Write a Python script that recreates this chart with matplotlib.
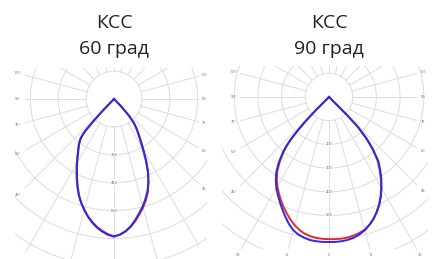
import numpy as np
import matplotlib
matplotlib.use("Agg")
import matplotlib.pyplot as plt
from matplotlib.patches import Rectangle

plt.rcParams["font.family"] = ["Open Sans", "DejaVu Sans"]

# КСС 60 град: угол от надира (град), сила света (кд)
ang_60 = [-90, -46, -44, -43, -42, -41, -40,
          -37.5, -35, -32.5, -30, -27.5, -25, -22.5, -20, -17.5, -15, -12.5, -10, -7.5, -5, -2.5,
          0,
          2.5, 5, 7.5, 10, 12.5, 15, 17.5, 20, 22.5, 25, 27.5, 30, 32.5, 35, 37.5, 40,
          42, 44, 46, 90]
blue_60 = [0, 0, 90, 160, 235, 262, 282,
           310, 333, 362, 396, 432, 470, 510, 550, 585, 617, 648, 675, 698, 716, 731,
           740,
           730, 713, 690, 660, 628, 597, 563, 527, 483, 435, 375, 318, 270, 232, 200, 165,
           120, 55, 0, 0]
red_60 = [0, 0, 85, 150, 228, 258, 280,
          312, 337, 367, 401, 437, 475, 514, 553, 587, 617, 646, 671, 694, 712, 728,
          738,
          730, 715, 693, 665, 634, 604, 570, 532, 485, 430, 368, 308, 262, 225, 194, 160,
          115, 52, 0, 0]

# КСС 90 град
ang_90 = [-90, -46.5, -45, -44, -43, -42, -41, -40,
          -37.5, -35, -32.5, -30, -27.5, -25, -22.5, -20, -17.5, -15, -12.5, -10, -7.5, -5, -2.5,
          0,
          2.5, 5, 7.5, 10, 12.5, 15, 17.5, 20, 22.5, 25, 27.5, 30, 32.5, 35, 37.5,
          40, 42, 44, 45, 46.5, 90]
blue_90 = [0, 0, 80, 150, 200, 245, 275, 300,
           348, 388, 418, 444, 467, 490, 514, 538, 562, 582, 595, 603, 609, 611, 612,
           612,
           612, 611, 608, 603, 594, 582, 566, 548, 526, 502, 474, 443, 411, 377, 342,
           290, 240, 177, 110, 0, 0]
red_90 = [0, 0, 75, 140, 190, 237, 268, 293,
          340, 380, 410, 436, 458, 480, 502, 522, 542, 560, 575, 586, 593, 597, 599,
          600,
          600, 600, 598, 594, 588, 580, 566, 548, 525, 500, 472, 440, 407, 372, 336,
          285, 235, 172, 105, 0, 0]

side_angles = [105, 90, 75, 60, 45]
bottom_angles = [-30, -15, 0, 15, 30]

W, H = 433, 259
fig = plt.figure(figsize=(W / 100, H / 100), dpi=100)
fig.patch.set_facecolor("white")

grid_color = "#dcdcdc"


def make_rect(x0, y0, x1, y1):  # прямоугольник в пикселях (сверху вниз)
    return Rectangle((x0 / W, (H - y1) / H), (x1 - x0) / W, (y1 - y0) / H,
                     transform=fig.transFigure, facecolor="none", edgecolor="none")


def panel(cx, cy, scale, step, rmax, ang, red, blue, ring_box, ray_box,
          radial_labels, left_dx, right_dx, bottom_dy=None):
    half = rmax * scale
    ax = fig.add_axes([(cx - half) / W, (H - cy - half) / H, 2 * half / W, 2 * half / H],
                      projection="polar")
    ax.set_theta_zero_location("S")
    ax.set_theta_direction(1)
    ax.set_ylim(0, rmax)
    ax.grid(False)
    ax.set_xticks([])
    ax.set_yticks([])
    ax.spines["polar"].set_visible(False)
    ax.patch.set_alpha(0)

    ring_clip = make_rect(*ring_box)
    ray_clip = make_rect(*ray_box)
    t = np.linspace(0, 2 * np.pi, 361)
    for r in np.arange(step, rmax + 1, step):
        ln, = ax.plot(t, np.full_like(t, r), color=grid_color, lw=0.7, zorder=1)
        ln.set_clip_path(ring_clip)
    for a in range(-180, 180, 15):
        ln, = ax.plot([np.radians(a)] * 2, [step, rmax], color=grid_color, lw=0.7, zorder=1)
        ln.set_clip_path(ray_clip)

    for v in radial_labels:
        ax.text(0, v, str(v), fontsize=2.8, color="#555555", ha="center", va="center",
                zorder=2, bbox=dict(facecolor="white", edgecolor="none", pad=0.4))

    for a in side_angles:
        s = np.sin(np.radians(a))
        ax.text(np.radians(-a), left_dx / scale / s, f"{a}°", fontsize=2.8,
                color="#666666", ha="center", va="center")
        ax.text(np.radians(a), right_dx / scale / s, f"{a}",
                fontsize=2.8, color="#666666", ha="center", va="center")
    if bottom_dy is not None:
        for a in bottom_angles:
            c = np.cos(np.radians(a))
            ax.text(np.radians(a), bottom_dy / scale / c, f"{abs(a)}", fontsize=2.8,
                    color="#666666", ha="center", va="center")

    for vals, col in [(red, "#e8262e"), (blue, "#2a2ae6")]:
        ln, = ax.plot(np.radians(ang), vals, color=col, lw=1.4, zorder=3,
                      solid_joinstyle="round")
        ln.set_clip_path(ring_clip)


panel(114, 99, 0.186, 150, 1100, ang_60, red_60, blue_60,
      (15, 68, 207, 262), (25, 68, 199, 262), [300, 450, 600], 96, 90)
panel(329, 97, 0.237, 100, 900, ang_90, red_90, blue_90,
      (222, 66, 428, 249), (240, 66, 417, 249), [200, 300, 400, 500], 95, 94,
      bottom_dy=158)

for cx, line2 in [(114, "60 град"), (329, "90 град")]:
    fig.text(cx / W, 1 - 23 / H, "КСС", fontsize=14, color="#222222", ha="center", va="center")
    fig.text(cx / W, 1 - 49 / H, line2, fontsize=14, color="#222222", ha="center", va="center")

fig.savefig("out.png", dpi=100, facecolor="white")
